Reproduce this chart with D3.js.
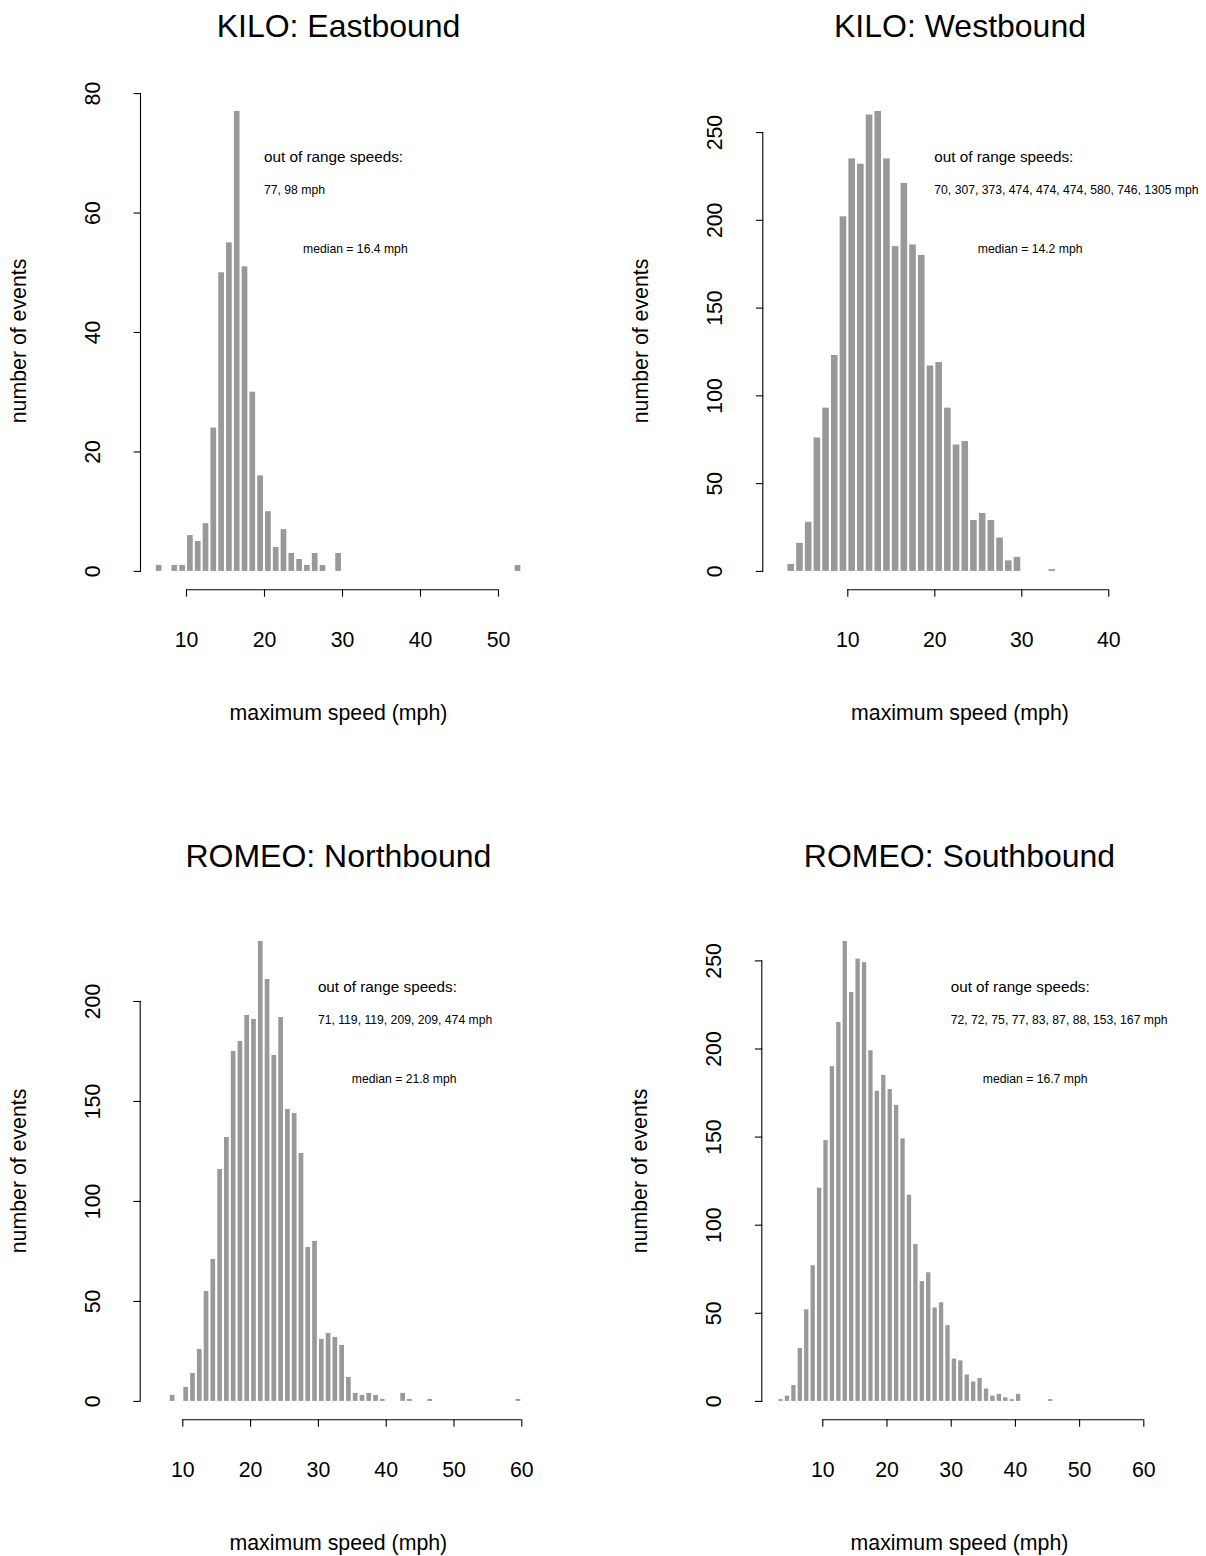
<!DOCTYPE html>
<html>
<head>
<meta charset="utf-8">
<script src="https://cdn.jsdelivr.net/npm/d3@7"></script>
<style>
  body { margin: 0; background: #fff; }
  svg { display: block; }
  text { font-family: "Liberation Sans", Arial, Helvetica, sans-serif; fill: #000; }
</style>
</head>
<body>
<svg id="chart" width="1206" height="1556"></svg>
<script>
// ---- Data: counts of events per 1-mph bin of maximum speed ----
const panelTitles = ["KILO: Eastbound", "KILO: Westbound", "ROMEO: Northbound", "ROMEO: Southbound"];

// lower edge (mph) of the first bin in each histogram
const binStart = [6, 3, 8, 3];

const kiloEastCounts = [
  1, 0, 1, 1, 6, 5, 8, 24, 50, 55, 77, 51, 30, 16, 10, 4, 7, 3, 2, 1, 3, 1, 0, 3,
  0, 0, 0, 0, 0, 0, 0, 0, 0, 0, 0, 0, 0, 0, 0, 0, 0, 0, 0, 0, 0, 0, 1
];
const kiloWestCounts = [
  4, 16, 28, 76, 93, 123, 202, 235, 232, 260, 262, 235, 185, 221, 186, 180, 117, 119,
  93, 72, 74, 29, 33, 29, 19, 6, 8, 0, 0, 0, 1
];
const romeoNorthCounts = [
  3, 0, 7, 14, 26, 55, 71, 116, 132, 175, 180, 193, 191, 230, 211, 173, 192, 146, 144,
  124, 77, 80, 31, 34, 32, 28, 12, 4, 3, 4, 3, 1, 0, 0, 4, 1, 0, 0, 1,
  0, 0, 0, 0, 0, 0, 0, 0, 0, 0, 0, 0, 1
];
const romeoSouthCounts = [
  1, 3, 9, 30, 52, 77, 121, 148, 190, 215, 261, 232, 251, 249, 199, 176, 185, 177, 168,
  149, 117, 89, 68, 73, 53, 56, 43, 24, 23, 15, 11, 13, 7, 3, 4, 2, 1, 4, 0, 0, 0, 0, 1
];
const allCounts = [kiloEastCounts, kiloWestCounts, romeoNorthCounts, romeoSouthCounts];

const xTickValues = [
  [10, 20, 30, 40, 50],
  [10, 20, 30, 40],
  [10, 20, 30, 40, 50, 60],
  [10, 20, 30, 40, 50, 60]
];
const yTickValues = [
  [0, 20, 40, 60, 80],
  [0, 50, 100, 150, 200, 250],
  [0, 50, 100, 150, 200],
  [0, 50, 100, 150, 200, 250]
];

// speeds that fell outside the plotted range, and the median speed
const outOfRangeSpeeds = [
  [77, 98],
  [70, 307, 373, 474, 474, 474, 580, 746, 1305],
  [71, 119, 119, 209, 209, 474],
  [72, 72, 75, 77, 83, 87, 88, 153, 167]
];
const medianSpeeds = [16.4, 14.2, 21.8, 16.7];

const xAxisTitle = "maximum speed (mph)";
const yAxisTitle = "number of events";

// ---- Layout of the 2 x 2 panels (pixels) ----
const layout = [
  { oy: 0,   left: 141.0, right: 536.0,  tickA: 186.0, tickB: 498.0,  noteX: 20, tickLabelGap: 41 },
  { oy: 0,   left: 763.3, right: 1156.7, tickA: 847.3, tickB: 1108.3, noteX: 20, tickLabelGap: 41 },
  { oy: 830, left: 140.7, right: 536.0,  tickA: 182.3, tickB: 521.3,  noteX: 30, tickLabelGap: 41 },
  { oy: 830, left: 762.3, right: 1156.7, tickA: 822.3, tickB: 1143.3, noteX: 30, tickLabelGap: 41 }
];
const plotTop = 92.6, plotBottom = 589.3;
const barColor = "#999999";
const axisFont = 21.3, titleFont = 32, noteFont = 15.25, smallNoteFont = 12.2;
const tickLen = 7.4;
const barInset = 1.05;

const svg = d3.select("#chart");

layout.forEach((L, i) => {
  const counts = allCounts[i];
  const start = binStart[i];
  const bins = counts.map((c, k) => ({ lo: start + k, hi: start + k + 1, n: c }));
  const M = d3.max(counts);
  const xt = xTickValues[i], yt = yTickValues[i];

  const x = d3.scaleLinear()
    .domain([xt[0], xt[xt.length - 1]])
    .range([L.tickA, L.tickB]);
  const y = d3.scaleLinear()
    .domain([-0.04 * M, 1.04 * M])
    .range([plotBottom + L.oy, plotTop + L.oy]);

  const g = svg.append("g");

  // histogram bars
  g.append("g").selectAll("rect")
    .data(bins.filter(b => b.n > 0))
    .join("rect")
    .attr("x", b => x(b.lo) + barInset)
    .attr("width", b => Math.max(0, x(b.hi) - x(b.lo) - 2 * barInset))
    .attr("y", b => y(b.n))
    .attr("height", b => Math.max(0, y(0) - y(b.n)))
    .attr("fill", barColor);

  // x axis: line spans first to last tick only
  const xAxisG = g.append("g")
    .attr("transform", `translate(0,${plotBottom + L.oy})`)
    .call(d3.axisBottom(x).tickValues(xt).tickSize(tickLen).tickSizeOuter(0).tickFormat(d3.format("d")));
  xAxisG.select(".domain")
    .attr("d", `M${x(xt[0])},0.5H${x(xt[xt.length - 1])}`)
    .attr("stroke", "#000").attr("stroke-width", 1.1);
  xAxisG.selectAll(".tick line").attr("stroke", "#000").attr("stroke-width", 1.1);
  xAxisG.selectAll(".tick text")
    .attr("y", 58).attr("dy", 0)
    .style("font-size", axisFont + "px")
    .style("font-family", "'Liberation Sans', Arial, sans-serif")
    .attr("fill", "#000");

  // y axis: line spans 0 to last tick, rotated labels
  const yAxisG = g.append("g")
    .attr("transform", `translate(${L.left},0)`)
    .call(d3.axisLeft(y).tickValues(yt).tickSize(tickLen).tickSizeOuter(0).tickFormat(d3.format("d")));
  yAxisG.select(".domain")
    .attr("d", `M-0.5,${y(yt[0])}V${y(yt[yt.length - 1])}`)
    .attr("stroke", "#000").attr("stroke-width", 1.1);
  yAxisG.selectAll(".tick line").attr("stroke", "#000").attr("stroke-width", 1.1);
  yAxisG.selectAll(".tick text")
    .attr("x", null).attr("dy", 0)
    .attr("text-anchor", "middle")
    .attr("transform", `translate(${-L.tickLabelGap},0) rotate(-90)`)
    .style("font-size", axisFont + "px")
    .style("font-family", "'Liberation Sans', Arial, sans-serif")
    .attr("fill", "#000");

  const cx = (L.left + L.right) / 2;

  // panel title
  g.append("text")
    .attr("x", cx).attr("y", 36.5 + L.oy)
    .attr("text-anchor", "middle")
    .style("font-size", titleFont + "px")
    .text(panelTitles[i]);

  // axis titles
  g.append("text")
    .attr("x", cx).attr("y", 720 + L.oy)
    .attr("text-anchor", "middle")
    .style("font-size", axisFont + "px")
    .text(xAxisTitle);
  g.append("text")
    .attr("transform", `translate(${L.left - 115},${(plotTop + plotBottom) / 2 + L.oy}) rotate(-90)`)
    .attr("text-anchor", "middle")
    .style("font-size", axisFont + "px")
    .text(yAxisTitle);

  // annotations: out-of-range speeds and median
  g.append("text")
    .attr("x", x(L.noteX)).attr("y", y(0.9 * M)).attr("dy", "0.36em")
    .style("font-size", noteFont + "px")
    .text("out of range speeds:");
  g.append("text")
    .attr("x", x(L.noteX)).attr("y", y(0.83 * M)).attr("dy", "0.36em")
    .style("font-size", smallNoteFont + "px")
    .text(outOfRangeSpeeds[i].join(", ") + " mph");
  g.append("text")
    .attr("x", x(L.noteX + 5)).attr("y", y(0.7 * M)).attr("dy", "0.36em")
    .style("font-size", smallNoteFont + "px")
    .text("median = " + medianSpeeds[i] + " mph");
});
</script>
</body>
</html>
